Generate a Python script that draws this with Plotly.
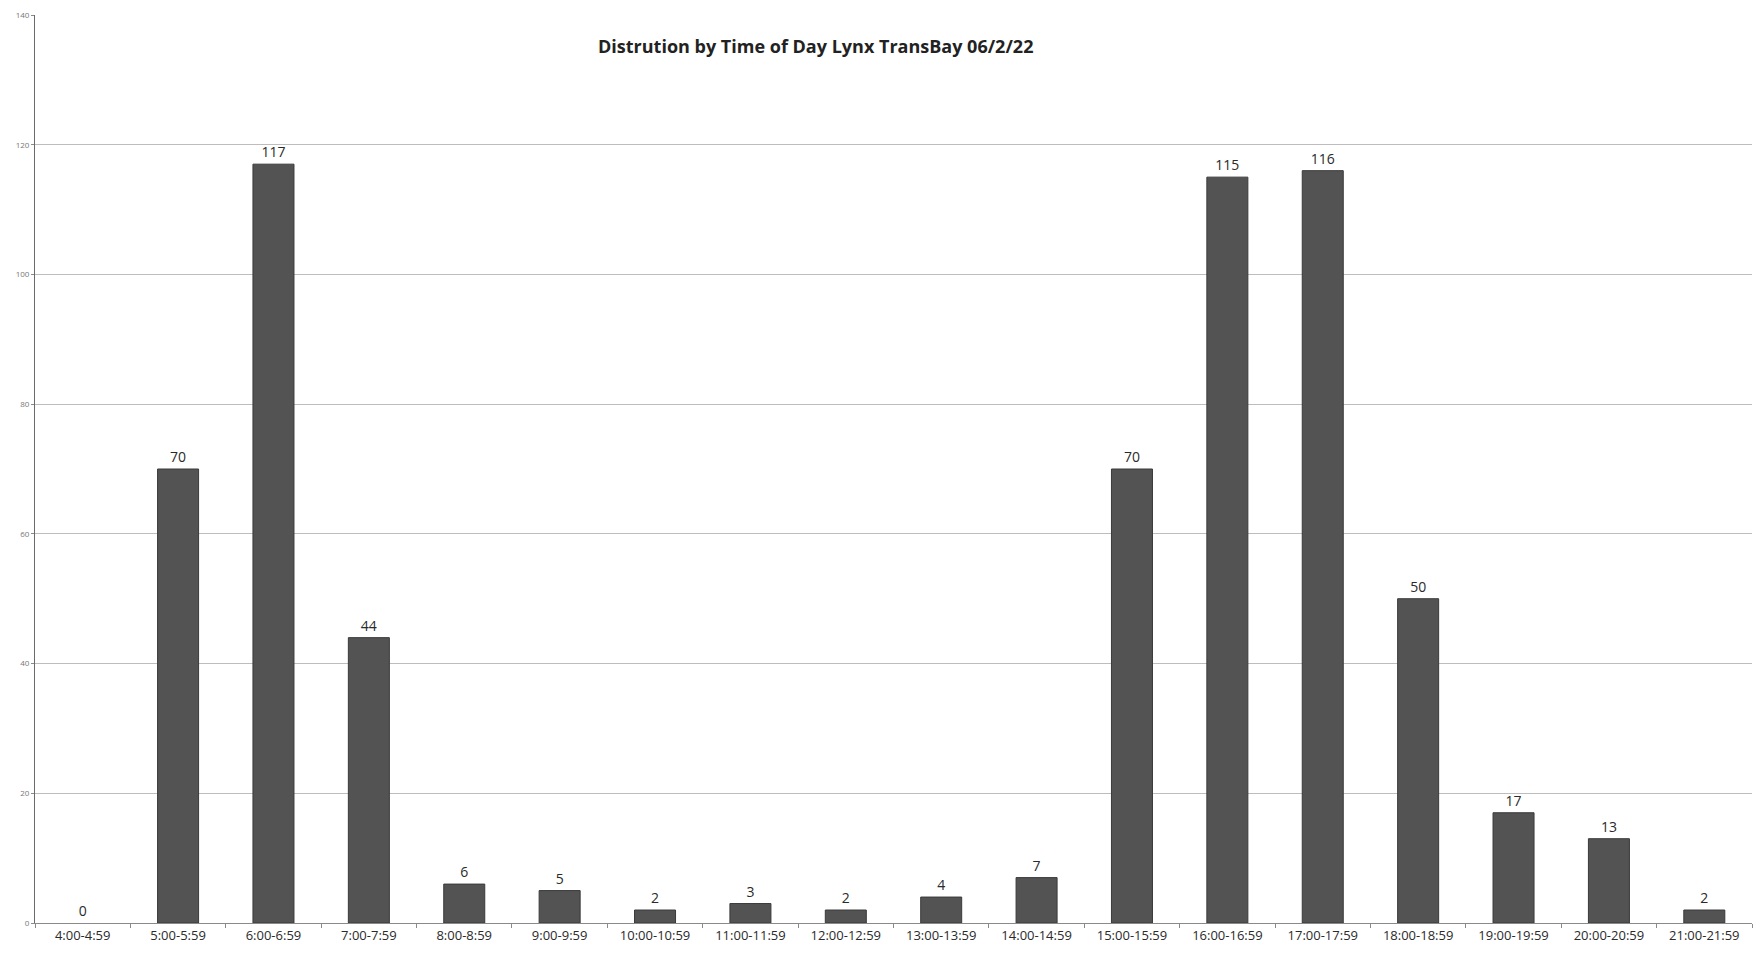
import plotly.graph_objects as go

# Boardings per hour-long window
time_slots = [
    "4:00-4:59", "5:00-5:59", "6:00-6:59", "7:00-7:59", "8:00-8:59",
    "9:00-9:59", "10:00-10:59", "11:00-11:59", "12:00-12:59", "13:00-13:59",
    "14:00-14:59", "15:00-15:59", "16:00-16:59", "17:00-17:59", "18:00-18:59",
    "19:00-19:59", "20:00-20:59", "21:00-21:59",
]
riders = [0, 70, 117, 44, 6, 5, 2, 3, 2, 4, 7, 70, 115, 116, 50, 17, 13, 2]
y_ticks = [0, 20, 40, 60, 80, 100, 120, 140]

fig = go.Figure()
fig.add_trace(go.Bar(
    x=time_slots,
    y=riders,
    text=[str(v) for v in riders],
    textposition="outside",
    cliponaxis=False,
    textfont=dict(family="Open Sans, Arial", size=14, color="#2a2a2a"),
    marker=dict(
        color="#535353",
        # no outline on empty bars so nothing shows along the baseline
        line=dict(color="#3a3a3a", width=[0 if v == 0 else 1 for v in riders]),
    ),
    width=0.43,
))

fig.update_layout(
    width=1761,
    height=958,
    margin=dict(l=35, r=9, t=10, b=35),
    paper_bgcolor="white",
    plot_bgcolor="white",
    showlegend=False,
    annotations=[dict(
        text="<b>Distrution by Time of Day Lynx TransBay 06/2/22</b>",
        x=0.4545, y=1 - (41 - 10) / (923 - 10),
        xref="paper", yref="paper", yanchor="middle",
        showarrow=False,
        font=dict(family="Open Sans, Arial", size=18, color="#222222"),
    )],
)

fig.update_xaxes(
    type="category",
    showgrid=False,
    showline=True, linecolor="#8a8a8a", linewidth=1,
    ticks="outside", tickson="boundaries", ticklen=4, tickcolor="#8a8a8a",
    tickfont=dict(family="Open Sans, Arial", size=13, color="#2a2a2a"),
)
fig.update_yaxes(
    range=[0, 140],
    tickvals=y_ticks,
    showgrid=True, gridcolor="#bdbdbd", gridwidth=1,
    showline=True, linecolor="#6a6a6a", linewidth=1,
    ticks="outside", ticklen=3, tickcolor="#8a8a8a",
    tickfont=dict(family="Open Sans, Arial", size=8, color="#777777"),
    zeroline=False,
)

fig.write_html("out.html")
